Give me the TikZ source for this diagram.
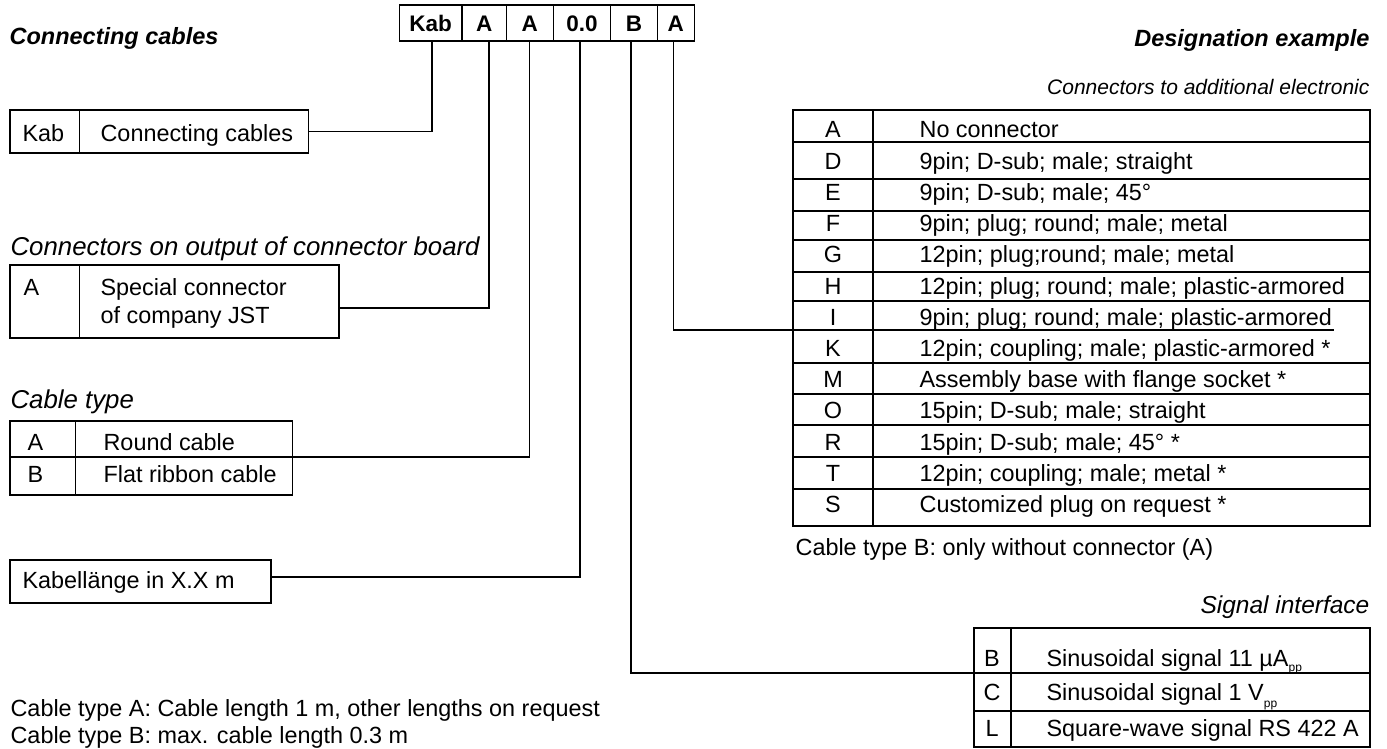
\documentclass[tikz,border=0pt]{standalone}
\usepackage{fontspec}
\setmainfont{Liberation Sans}
\usetikzlibrary{calc}
\begin{document}
\begin{tikzpicture}[x=1pt,y=-1pt,line width=1.2pt,
  box/.style={draw,inner sep=0pt,outer sep=0pt,anchor=north west,line width=1.3pt},
  body/.style={font=\fontsize{23.4}{28}\selectfont,inner sep=0pt},
  code/.style={box,font=\bfseries\fontsize{22.5}{26}\selectfont,text height=16.5pt,text depth=0pt,minimum height=36pt},
  bigtitle/.style={font=\bfseries\itshape\fontsize{23.5}{28}\selectfont,inner sep=0pt},
  head/.style={font=\itshape\fontsize{25.8}{30}\selectfont,inner sep=0pt},
  wire/.style={line width=1.2pt}]
\useasboundingbox (0,0) rectangle (1387,749);

% titles
\node[bigtitle,anchor=base west] (ttl) at (9,45) {Connecting cables};
\node[bigtitle,anchor=base east] (des) at (1370,47) {Designation example};

% designation code box
\node[code,minimum width=62.5pt] (c1) at (399.4,5) {Kab};
\node[code,minimum width=44.5pt] (c2) at (461.9,5) {A};
\node[code,minimum width=46.9pt] (c3) at (506.4,5) {A};
\node[code,minimum width=57.3pt] (c4) at (553.3,5) {0.0};
\node[code,minimum width=46.9pt] (c5) at (610.6,5) {B};
\node[code,minimum width=36.7pt] (c6) at (657.5,5) {A};

% Kab box
\node[box,minimum width=69.4pt,minimum height=43pt] (kabL) at (10,110) {};
\node[box,minimum width=229.1pt,minimum height=43pt] (kabR) at (79.4,110) {};
\node[body,anchor=base west] (kabLt) at (22,142) {Kab};
\node[body,anchor=base west] (kabRt) at (100,142) {Connecting cables};

% connectors on output
\node[head,anchor=base west] (hout) at (10,255) {Connectors on output of connector board};
\node[box,minimum width=69.4pt,minimum height=73pt] (jstL) at (10,265) {};
\node[box,minimum width=259.6pt,minimum height=73pt] (jstR) at (79.4,265) {};
\node[body,anchor=base west] (jstLt) at (23,295) {A};
\node[body,anchor=base west] (jstR1) at (100,295) {Special connector};
\node[body,anchor=base west] (jstR2) at (100,323) {of company JST};

% cable type
\node[head,anchor=base west] (hct) at (10,408) {Cable type};
\node[box,minimum width=65.8pt,minimum height=36pt] (ctAL) at (10,421) {};
\node[box,minimum width=216.7pt,minimum height=36pt] (ctAR) at (75.8,421) {};
\node[box,minimum width=65.8pt,minimum height=38pt] (ctBL) at (10,457) {};
\node[box,minimum width=216.7pt,minimum height=38pt] (ctBR) at (75.8,457) {};
\node[body,anchor=base west] (ctAt) at (27,450) {A};
\node[body,anchor=base west] (ctAd) at (103,450) {Round cable};
\node[body,anchor=base west] (ctBt) at (27,482) {B};
\node[body,anchor=base west] (ctBd) at (103,482) {Flat ribbon cable};

% cable length
\node[box,minimum width=261pt,minimum height=43pt] (kl) at (10,560) {};
\node[body,anchor=base west] (klt) at (22,588) {Kabellänge in X.X m};

% footnotes
\node[body,anchor=base west] (fn1) at (10,716) {Cable type A: Cable length 1 m, other lengths on request};
\node[body,anchor=base west] (fn2) at (10,743) {Cable type B: max. cable length 0.3 m};

% connectors to additional electronic
\node[font=\itshape\fontsize{21}{25}\selectfont,inner sep=0pt,anchor=base east] (hadd) at (1370,95) {Connectors to additional electronic};
\node[box,minimum width=577pt,minimum height=416pt] (ctab) at (793,110) {};
\draw[wire] ($(ctab.north west)+(80,0)$) -- ($(ctab.south west)+(80,0)$);
\foreach \yy in {142,179,211,240,272,301,363,394,425,457,489}
  \draw[wire] ($(ctab.north west)+(0,\yy-110)$) -- ($(ctab.north east)+(0,\yy-110)$);
\foreach \L/\D [count=\i] in {
  A/No connector,
  D/9pin; D-sub; male; straight,
  E/9pin; D-sub; male; 45°,
  F/9pin; plug; round; male; metal,
  G/12pin; plug;round; male; metal,
  H/12pin; plug; round; male; plastic-armored,
  I/9pin; plug; round; male; plastic-armored,
  K/12pin; coupling; male; plastic-armored *,
  M/Assembly base with flange socket *,
  O/15pin; D-sub; male; straight,
  R/15pin; D-sub; male; 45° *,
  T/12pin; coupling; male; metal *,
  S/Customized plug on request *}
{
  \node[body,anchor=base] (cl\i) at (833,{138+31.2*(\i-1)}) {\L};
  \node[body,anchor=base west] (cd\i) at (919,{138+31.2*(\i-1)}) {\D};
}
\node[body,anchor=base west] (note) at (795,555) {Cable type B: only without connector (A)};

% signal interface
\node[head,font=\itshape\fontsize{24.5}{29}\selectfont,anchor=base east] (hsig) at (1370,613) {Signal interface};
\node[box,minimum width=396pt,minimum height=45pt] (sigB) at (974,628) {};
\node[box,minimum width=396pt,minimum height=38pt] (sigC) at (974,673) {};
\node[box,minimum width=396pt,minimum height=36pt] (sigL) at (974,711) {};
\draw[wire] ($(sigB.north west)+(37,0)$) -- ($(sigL.south west)+(37,0)$);
\node[body,anchor=base] (sBt) at (992,666) {B};
\node[body,anchor=base west] (sBd) at (1046,666) {Sinusoidal signal 11 µA\raisebox{-5pt}{\fontsize{12}{12}\selectfont pp}};
\node[body,anchor=base] (sCt) at (992,700) {C};
\node[body,anchor=base west] (sCd) at (1046,700) {Sinusoidal signal 1 V\raisebox{-7pt}{\fontsize{12}{12}\selectfont pp}};
\node[body,anchor=base] (sLt) at (992,736) {L};
\node[body,anchor=base west] (sLd) at (1046,736) {Square-wave signal RS 422 A};

% connector lines
\coordinate (ikend) at (1334,330);
\draw[wire] ([xshift=1.3pt]c1.south) |- (kabR.east);
\draw[wire] ([xshift=4.9pt]c2.south) |- ([yshift=-6.5pt]jstR.east);
\draw[wire] (c3.south) |- (ctAR.south east);
\draw[wire] ([xshift=-2pt]c4.south) |- ([yshift=4.5pt]kl.east);
\draw[wire] ([xshift=-3pt]c5.south) |- (sigB.south west);
\draw[wire] ([xshift=-2.4pt]c6.south) |- (ikend);
\end{tikzpicture}
\end{document}
